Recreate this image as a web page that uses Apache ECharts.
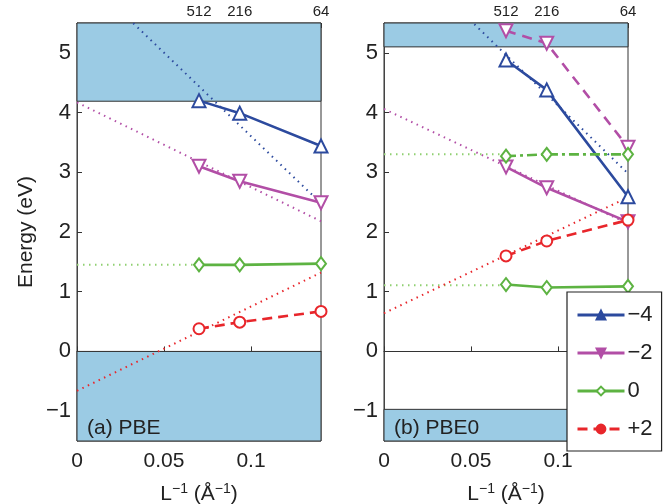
<!DOCTYPE html>
<html><head><meta charset="utf-8">
<script src="https://cdn.jsdelivr.net/npm/echarts@6/dist/echarts.min.js"></script>
<style>html,body{margin:0;padding:0;background:#fff}#c{width:668px;height:504px}</style>
</head><body><div id="c"></div>
<script>
// supercell positions (L^-1, 1/Å) and their top labels
const xPts = [0.0701, 0.0935, 0.1402];
const topLabels = ['512', '216', '64'];
const xMax = 0.1402;
const xTicks = [0, 0.05, 0.1];
const yTicks = [-1, 0, 1, 2, 3, 4, 5];

// (a) PBE
const aM4 = [4.20, 3.99, 3.44];
const aM2 = [3.10, 2.85, 2.49];
const aZ  = [1.45, 1.45, 1.47];
const aP2 = [0.38, 0.49, 0.67];
const aFitX = [0, 0.1402];
const aFitM4 = [6.40, 2.48];
const aFitM2 = [4.17, 2.18];
const aFitZX = [0, 0.0701];
const aFitZ = [1.45, 1.45];
const aFitP2 = [-0.66, 1.32];
const aBands = [[4.19, 5.5], [-1.5, 0]];

// (b) PBE0
const bM4 = [4.88, 4.38, 2.59];
const bM2 = [3.09, 2.74, 2.17];
const bM2b = [5.37, 5.16, 3.42];
const bZ  = [1.12, 1.07, 1.09];
const bZb = [3.27, 3.30, 3.30];
const bP2 = [1.60, 1.85, 2.20];
const bFitX = [0, 0.1402];
const bFitM4 = [6.95, 2.98];
const bFitM2 = [4.06, 2.14];
const bFitZX = [0, 0.0701];
const bFitZ = [3.30, 3.30];
const bFitZ2 = [1.11, 1.11];
const bFitP2 = [0.64, 2.58];
const bBands = [[5.1, 5.5], [-1.5, -0.97]];

const C = {blue:'#2c4a9e', mag:'#b24ea6', green:'#5db342', red:'#e8262b', band:'#9bcbe4'};
const FONT = 'Liberation Sans';
const pairs = (xs, ys) => xs.map((x, i) => [x, ys[i]]);

function mainSeries(name, gi, xs, ys, color, symbol, opts) {
  opts = opts || {};
  return {
    type: 'line', name: name, xAxisIndex: gi * 2, yAxisIndex: gi,
    data: pairs(xs, ys), z: 5,
    symbol: symbol, symbolSize: opts.size || 13, symbolRotate: opts.rot || 0,
    lineStyle: {color: color, width: 2.6, type: opts.type || 'solid'},
    itemStyle: {color: '#fff', borderColor: color, borderWidth: 2},
    emphasis: {disabled: true}, animation: false
  };
}
function fitSeries(gi, xs, ys, color) {
  return {
    type: 'line', name: 'fit', xAxisIndex: gi * 2, yAxisIndex: gi,
    data: pairs(xs, ys), symbol: 'none', z: 3, clip: true,
    lineStyle: {color: color, width: 2, type: [1.5, 4.5]},
    emphasis: {disabled: true}, animation: false
  };
}
function bandSeries(gi, bands) {
  return {
    type: 'line', name: 'band', xAxisIndex: gi * 2, yAxisIndex: gi, data: [], z: 1,
    markArea: {silent: true,
      itemStyle: {color: C.band, borderColor: '#333', borderWidth: 1},
      data: bands.map(b => [{yAxis: b[0]}, {yAxis: b[1]}])}
  };
}

const grids = [
  {left: 77, top: 23, width: 244, height: 418, outerBoundsMode: 'none', containLabel: false,
   show: true, borderColor: '#333', borderWidth: 1, backgroundColor: 'transparent'},
  {left: 384, top: 23, width: 244, height: 418, outerBoundsMode: 'none', containLabel: false,
   show: true, borderColor: '#333', borderWidth: 1, backgroundColor: 'transparent'}
];
const xAxes = [], yAxes = [];
[0, 1].forEach(gi => {
  xAxes.push({
    type: 'value', gridIndex: gi, min: 0, max: xMax, position: 'bottom',
    name: '{a|L}{s|−1}{a| (Å}{s|−1}{a|)}', nameLocation: 'middle', nameGap: 41,
    nameTextStyle: {rich: {a: {fontSize: 21, fontFamily: FONT, color: '#222'},
                           s: {fontSize: 14, fontFamily: FONT, color: '#222', verticalAlign: 'top', padding: [0, 0, 10, 0]}}},
    splitLine: {show: false},
    axisLine: {show: true, lineStyle: {color: '#333'}},
    axisTick: {show: true, inside: true, length: 5, customValues: xTicks, lineStyle: {color: '#333'}},
    axisLabel: {customValues: xTicks, margin: 10, fontSize: 21, fontFamily: FONT, color: '#222',
                formatter: v => (v === 0 ? '0' : String(+v.toFixed(2)))}
  });
  xAxes.push({
    type: 'value', gridIndex: gi, min: 0, max: xMax, position: 'top',
    splitLine: {show: false},
    axisLine: {show: true, lineStyle: {color: '#333'}},
    axisTick: {show: true, inside: true, length: 5, customValues: xPts, lineStyle: {color: '#333'}},
    axisLabel: {customValues: xPts, margin: 4, fontSize: 15, fontFamily: FONT, color: '#222',
                formatter: v => topLabels[xPts.indexOf(v)] || ''}
  });
  yAxes.push({
    type: 'value', gridIndex: gi, min: -1.5, max: 5.5,
    name: gi === 0 ? 'Energy (eV)' : '', nameLocation: 'middle', nameGap: 40,
    nameTextStyle: {fontSize: 21, fontFamily: FONT, color: '#222'},
    splitLine: {show: false},
    axisLine: {show: true, lineStyle: {color: '#444'}},
    axisTick: {show: true, inside: true, length: 5, customValues: yTicks, lineStyle: {color: '#333'}},
    axisLabel: {customValues: yTicks, margin: 6, fontSize: 22, fontFamily: FONT, color: '#222',
                formatter: v => (v < 0 ? '−' + Math.abs(v) : String(v))}
  });
});

const series = [
  bandSeries(0, aBands),
  fitSeries(0, aFitX, aFitM4, C.blue),
  fitSeries(0, aFitX, aFitM2, C.mag),
  fitSeries(0, aFitZX, aFitZ, '#8fd070'),
  fitSeries(0, aFitX, aFitP2, C.red),
  mainSeries('−4', 0, xPts, aM4, C.blue, 'triangle'),
  mainSeries('−2', 0, xPts, aM2, C.mag, 'triangle', {rot: 180}),
  mainSeries('0', 0, xPts, aZ, C.green, 'diamond', {size: [10, 13]}),
  mainSeries('+2', 0, xPts, aP2, C.red, 'circle', {size: 11, type: [10, 6]}),

  bandSeries(1, bBands),
  fitSeries(1, bFitX, bFitM4, C.blue),
  fitSeries(1, bFitX, bFitM2, C.mag),
  fitSeries(1, bFitZX, bFitZ, '#8fd070'),
  fitSeries(1, bFitZX, bFitZ2, '#8fd070'),
  fitSeries(1, bFitX, bFitP2, C.red),
  mainSeries('−4', 1, xPts, bM4, C.blue, 'triangle'),
  mainSeries('−2', 1, xPts, bM2, C.mag, 'triangle', {rot: 180}),
  mainSeries('−2b', 1, xPts, bM2b, C.mag, 'triangle', {rot: 180, type: [10, 7]}),
  mainSeries('0', 1, xPts, bZ, C.green, 'diamond', {size: [10, 13]}),
  mainSeries('0b', 1, xPts, bZb, C.green, 'diamond', {size: [10, 13], type: [10, 4, 3, 4]}),
  mainSeries('+2', 1, xPts, bP2, C.red, 'circle', {size: 11, type: [10, 6]})
];

const chart = echarts.init(document.getElementById('c'), null, {renderer: 'canvas'});
chart.setOption({
  animation: false,
  backgroundColor: '#fff',
  grid: grids, xAxis: xAxes, yAxis: yAxes, series: series,
  legend: {
    data: [
      {name: '−4', itemStyle: {color: C.blue, borderColor: C.blue}},
      {name: '−2', itemStyle: {color: C.mag, borderColor: C.mag}},
      {name: '0', itemStyle: {color: '#fff', borderColor: C.green}},
      {name: '+2', itemStyle: {color: C.red, borderColor: C.red}}
    ],
    orient: 'vertical', left: 567, top: 292,
    padding: [12, 9, 11, 9], itemGap: 16, itemWidth: 47, itemHeight: 11,
    lineStyle: {width: 3},
    backgroundColor: '#fff', borderColor: '#222', borderWidth: 1.2,
    textStyle: {fontSize: 22, fontFamily: FONT, color: '#222', padding: [0, 0, 0, -2]},
    selectedMode: false, z: 20
  },
  graphic: [
    {type: 'text', left: 87, top: 418, z: 10, style: {text: '(a) PBE', font: '21px "Liberation Sans"', fill: '#222'}},
    {type: 'text', left: 394, top: 418, z: 10, style: {text: '(b) PBE0', font: '21px "Liberation Sans"', fill: '#222'}}
  ]
});
</script></body></html>
